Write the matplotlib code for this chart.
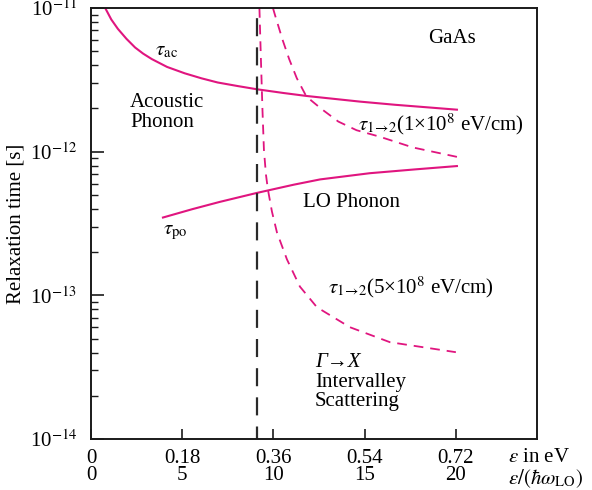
import matplotlib
matplotlib.use("Agg")
import matplotlib.pyplot as plt
from matplotlib.ticker import FixedLocator, LogLocator, NullFormatter
import matplotlib.transforms as mtransforms

plt.rcParams["font.family"] = ["Liberation Serif", "DejaVu Serif"]
plt.rcParams["mathtext.fontset"] = "stix"
plt.rcParams["lines.scale_dashes"] = False

# Energy axis (eV) and the matching epsilon/(hbar*omega_LO) labels
energy_ticks = [0, 0.18, 0.36, 0.54, 0.72]
energy_labels = ["0", "0.18", "0.36", "0.54", "0.72"]
ratio_labels = ["0", "5", "10", "15", "20"]

# Acoustic phonon relaxation time
ac_E = [0.028, 0.040, 0.053, 0.070, 0.087, 0.103, 0.120, 0.150, 0.185, 0.218,
        0.250, 0.290, 0.327, 0.380, 0.426, 0.480, 0.531, 0.600, 0.660, 0.722]
ac_tau = [1.0e-11, 8.32e-12, 7.16e-12, 6.1e-12, 5.31e-12, 4.81e-12, 4.41e-12,
          3.89e-12, 3.51e-12, 3.24e-12, 3.03e-12, 2.86e-12, 2.72e-12, 2.56e-12,
          2.44e-12, 2.33e-12, 2.23e-12, 2.12e-12, 2.04e-12, 1.96e-12]

# Polar optical (LO) phonon relaxation time
po_E = [0.142, 0.200, 0.254, 0.327, 0.400, 0.452, 0.550, 0.640, 0.722]
po_tau = [3.48e-13, 3.98e-13, 4.47e-13, 5.16e-13, 5.89e-13, 6.41e-13, 7.08e-13,
          7.53e-13, 7.94e-13]

# Gamma -> X intervalley scattering, deformation potential 1e8 eV/cm
iv1_E = [0.359, 0.363, 0.378, 0.391, 0.406, 0.425, 0.455, 0.488, 0.524, 0.570,
         0.635, 0.722]
iv1_tau = [1.0e-11, 8.94e-12, 6.0e-12, 4.41e-12, 3.25e-12, 2.42e-12, 1.98e-12,
           1.62e-12, 1.41e-12, 1.27e-12, 1.07e-12, 9.2e-13]

# Gamma -> X intervalley scattering, deformation potential 5e8 eV/cm
iv5_E = [0.3323, 0.3353, 0.3383, 0.3412, 0.3452, 0.3491, 0.3570, 0.3669, 0.3866,
         0.4122, 0.4458, 0.5108, 0.5897, 0.7199]
iv5_tau = [1.0e-11, 4.35e-12, 1.96e-12, 1.03e-12, 6.92e-13, 5.44e-13, 3.83e-13,
           2.74e-13, 1.78e-13, 1.15e-13, 8.26e-14, 6.0e-14, 4.72e-14, 4.02e-14]

# Intervalley threshold energy
threshold_E = 0.327

pink = "#E0157F"
ink = "#1a1a1a"
fs = 15

fig = plt.figure(figsize=(5.92, 4.90), dpi=100)
ax = fig.add_axes([91 / 592, 1 - 439 / 490, (537 - 91) / 592, (439 - 8) / 490])

ax.plot(ac_E, ac_tau, color=pink, lw=1.5)
ax.plot(po_E, po_tau, color=pink, lw=1.5)
ax.plot(iv1_E, iv1_tau, color=pink, lw=1.3, linestyle=(0, (7, 5)))
ax.plot(iv5_E, iv5_tau, color=pink, lw=1.3, linestyle=(0, (7, 5)))
ax.axvline(threshold_E, color="#2a2a2a", lw=1.6, linestyle=(4, (13, 8)))

ax.set_yscale("log")
ax.set_xlim(0, 0.88)
ax.set_ylim(1e-14, 1e-11)

for sp in ax.spines.values():
    sp.set_linewidth(1.4)
    sp.set_color(ink)

ax.xaxis.set_major_locator(FixedLocator(energy_ticks))
ax.set_xticklabels(energy_labels, fontsize=fs)
ax.tick_params(axis="x", direction="in", length=7, width=1.2, pad=7, color=ink,
               top=False)
ax.yaxis.set_minor_locator(LogLocator(base=10, subs=range(2, 10), numticks=10))
ax.yaxis.set_minor_formatter(NullFormatter())
ax.set_yticks([1e-14, 1e-13, 1e-12, 1e-11])
ax.set_yticklabels([r"10$^{-14}$", r"10$^{-13}$", r"10$^{-12}$", r"10$^{-11}$"],
                   fontsize=fs)
ax.tick_params(axis="y", which="major", direction="in", length=9, width=1.2, pad=10,
               color=ink, right=False)
ax.tick_params(axis="y", which="minor", direction="in", length=5, width=1.0,
               color=ink, right=False)

# Second row of x labels: energy in units of the LO phonon energy
trans = mtransforms.blended_transform_factory(ax.transData, ax.transAxes)
for xv, lab in zip(energy_ticks, ratio_labels):
    ax.text(xv, -0.085, lab, transform=trans, ha="center", va="center", fontsize=fs)

ax.text(0.822, -0.042, r"$\varepsilon$ in eV", transform=trans, ha="left",
        va="center", fontsize=fs)
ax.text(0.822, -0.092, r"$\varepsilon/(\hbar\omega_{\rm LO})$", transform=trans,
        ha="left", va="center", fontsize=fs)

ax.set_ylabel("Relaxation time [s]", fontsize=fs, labelpad=3)

ax.text(0.712, 6.1e-12, "GaAs", ha="center", va="center", fontsize=fs)
ax.text(0.150, 5.0e-12, r"$\tau_{\rm ac}$", ha="center", va="center", fontsize=fs)
ax.text(0.077, 1.87e-12, "Acoustic\nPhonon", ha="left", va="center", fontsize=fs,
        linespacing=1.05)
ax.text(0.527, 1.55e-12, r"$\tau_{1\!\rightarrow\!2}$(1×10$^{8}$ eV/cm)", ha="left",
        va="center", fontsize=fs)
ax.text(0.418, 4.45e-13, "LO Phonon", ha="left", va="center", fontsize=fs)
ax.text(0.142, 2.75e-13, r"$\tau_{\rm po}$", ha="left", va="center", fontsize=fs)
ax.text(0.467, 1.13e-13, r"$\tau_{1\!\rightarrow\!2}$(5×10$^{8}$ eV/cm)", ha="left",
        va="center", fontsize=fs)
ax.text(0.442, 3.42e-14, "Γ→X", ha="left", va="center", fontsize=fs,
        fontstyle="italic")
ax.text(0.442, 2.47e-14, "Intervalley", ha="left", va="center", fontsize=fs)
ax.text(0.442, 1.81e-14, "Scattering", ha="left", va="center", fontsize=fs)

fig.savefig("out.png", dpi=100)
